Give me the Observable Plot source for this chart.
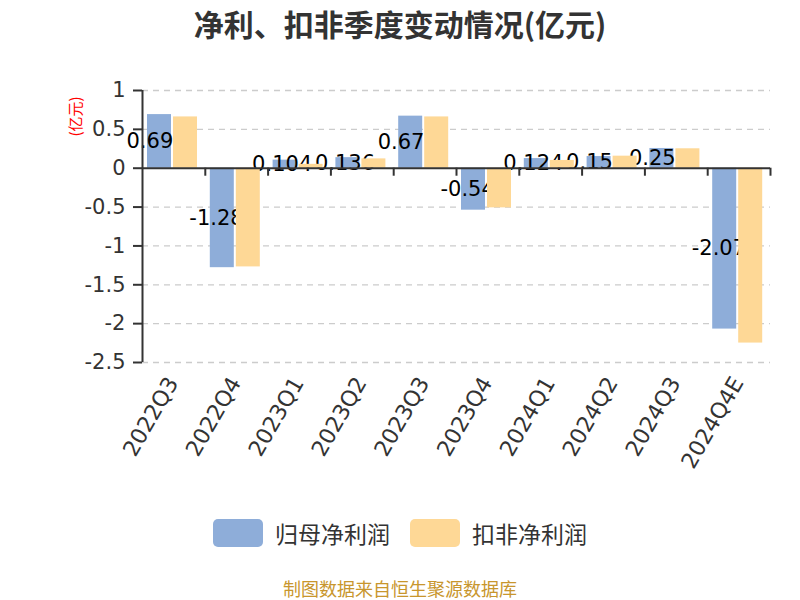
<!DOCTYPE html>
<html><head><meta charset="utf-8">
<script src="https://cdn.jsdelivr.net/npm/d3@7"></script>
<script src="https://cdn.jsdelivr.net/npm/@observablehq/plot@0.6"></script>
<style>
body{margin:0;background:#fff;font-family:"Noto Sans CJK SC","Noto Sans",sans-serif;}
#wrap{position:relative;width:800px;height:600px;overflow:hidden;}
#title{position:absolute;top:3px;left:0;width:800px;text-align:center;font-size:30px;line-height:40px;font-weight:bold;color:#333;}
#chart{position:absolute;top:0;left:0;}
#legend{position:absolute;top:516px;left:0;width:800px;display:flex;justify-content:center;align-items:center;gap:20px;font-size:23px;line-height:34px;color:#333;}
#legend .item{display:flex;align-items:center;gap:12px;}
#legend .sw{width:50px;height:28px;border-radius:5px;}
#caption{position:absolute;top:575px;left:0;width:800px;text-align:center;font-size:18px;line-height:26px;color:#c8962d;}
</style></head>
<body>
<div id="wrap">
  <div id="chart"></div>
  <div id="title">净利、扣非季度变动情况(亿元)</div>
  <div id="legend"></div>
  <div id="caption">制图数据来自恒生聚源数据库</div>
</div>
<script>
const categories = ["2022Q3","2022Q4","2023Q1","2023Q2","2023Q3","2023Q4","2024Q1","2024Q2","2024Q3","2024Q4E"];
const netProfit = [0.69,-1.28,0.104,0.136,0.67,-0.54,0.124,0.15,0.254,-2.07];
const deductedProfit = [0.66,-1.27,0.05,0.12,0.66,-0.51,0.10,0.155,0.25,-2.25];
const yTicks = [1,0.5,0,-0.5,-1,-1.5,-2,-2.5];
const seriesNames = ["归母净利润","扣非净利润"];
const seriesColors = ["#8eadd9","#fed896"];
const unitLabel = "(亿元)";

const blue = categories.map((c,i)=>({cat:c, v:netProfit[i]}));
const orange = categories.map((c,i)=>({cat:c, v:deductedProfit[i]}));

const W = 800, H = 500, mL = 142, mR = 30, mT = 90, mB = 138;
const half = (W - mL - mR) / categories.length / 2;
const numFont = '"DejaVu Sans",sans-serif';

const chart = Plot.plot({
  width: W, height: H,
  marginTop: mT, marginBottom: mB, marginLeft: mL, marginRight: mR,
  style: {fontFamily: '"Noto Sans CJK SC","Noto Sans",sans-serif', background: "transparent"},
  x: {type: "band", domain: categories, padding: 0, round: false, axis: null},
  y: {domain: [-2.5, 1], axis: null},
  marks: [
    Plot.ruleY(yTicks.filter(t => t !== 0), {stroke: "#cccccc", strokeWidth: 1.3, strokeDasharray: "6,5"}),
    Plot.barY(blue, {x: "cat", y: "v", fill: seriesColors[0], insetLeft: 5, insetRight: 2*half - 29}),
    Plot.text(blue, {x: "cat", y: d => d.v / 2, text: d => String(d.v), textAnchor: "start", dx: -half - 16, fontSize: 21, fontFamily: numFont, fill: "#000"}),
    Plot.barY(orange, {x: "cat", y: "v", fill: seriesColors[1], insetLeft: 31, insetRight: 2*half - 55}),
    Plot.ruleY([0], {stroke: "#333", strokeWidth: 2}),
    Plot.ruleX(categories, {x: d => d, y1: 0, y2: 0, dx: half, insetBottom: -8, stroke: "#333", strokeWidth: 2}),
    Plot.ruleX([categories[0]], {x: d => d, dx: -half, y1: -2.5, y2: 1, stroke: "#333", strokeWidth: 2}),
    Plot.axisY({ticks: yTicks, label: null, tickSize: 9, tickPadding: 8, fontSize: 21, fontFamily: numFont, color: "#333", stroke: "#333", strokeWidth: 2, tickFormat: d => String(d)}),
    Plot.text(categories, {x: d => d, frameAnchor: "bottom", text: d => d, rotate: -60, textAnchor: "end", dx: 5, dy: 20, fontSize: 22, fontFamily: numFont, fill: "#333"}),
    Plot.text([unitLabel], {frameAnchor: "top-left", dx: -66, dy: 26, rotate: -90, textAnchor: "middle", lineAnchor: "middle", fill: "red", fontSize: 15, text: d => d})
  ]
});
document.getElementById("chart").appendChild(chart);

const legend = document.getElementById("legend");
seriesNames.forEach((n, i) => {
  const it = document.createElement("div"); it.className = "item";
  const sw = document.createElement("div"); sw.className = "sw"; sw.style.background = seriesColors[i];
  const tx = document.createElement("span"); tx.textContent = n;
  it.appendChild(sw); it.appendChild(tx); legend.appendChild(it);
});
</script>
</body></html>
